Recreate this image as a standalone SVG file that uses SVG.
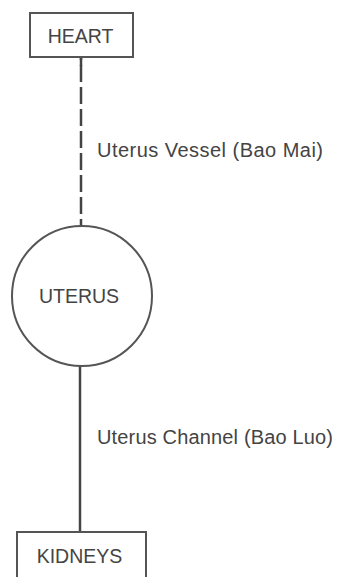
<svg xmlns="http://www.w3.org/2000/svg" width="344" height="577" viewBox="0 0 344 577">
<style>
.box{fill:#fff;stroke:#555;stroke-width:2}
.lbl{font-family:"Liberation Sans",Arial,sans-serif;fill:#444;font-size:20px}
.nt{font-family:"Liberation Sans",Arial,sans-serif;fill:#444;font-size:19.5px;text-anchor:middle}
.ln{stroke:#444;stroke-width:2.5;fill:none}
</style>
<rect width="344" height="577" fill="#fff"/>
<g id="connectors">
<line class="ln" x1="81" y1="57" x2="81" y2="227" stroke-dasharray="17 5" stroke-dashoffset="-8"/>
<line class="ln" x1="81" y1="57" x2="81" y2="66"/>
<line class="ln" x1="80" y1="366" x2="80" y2="532"/>
<text class="lbl" x="97" y="157" textLength="226" lengthAdjust="spacing">Uterus Vessel (Bao Mai)</text>
<text class="lbl" x="97" y="444" textLength="236" lengthAdjust="spacing">Uterus Channel (Bao Luo)</text>
</g>
<g id="heart">
<rect class="box" x="30" y="13" width="103" height="44"/>
<text class="nt" x="80.5" y="43">HEART</text>
</g>
<g id="uterus">
<circle class="box" cx="82" cy="296" r="70"/>
<text class="nt" x="79" y="303">UTERUS</text>
</g>
<g id="kidneys">
<rect class="box" x="17" y="532" width="129" height="50"/>
<text class="nt" x="79.5" y="563">KIDNEYS</text>
</g>
</svg>
